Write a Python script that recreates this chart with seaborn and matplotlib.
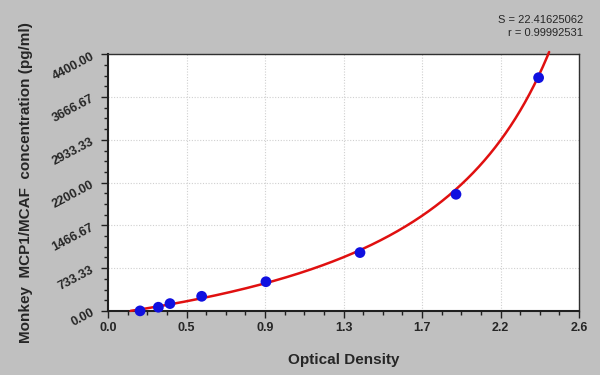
import numpy as np
import pandas as pd
import matplotlib
matplotlib.use("Agg")
import matplotlib.pyplot as plt
import seaborn as sns
from matplotlib.ticker import FixedLocator, AutoMinorLocator

# Data
od = [0.177, 0.278, 0.342, 0.517, 0.872, 1.391, 1.921, 2.377]
conc = [0.0, 62.5, 125.0, 250.0, 500.0, 1000.0, 2000.0, 4000.0]
x_tick_vals = list(np.linspace(0, 2.6, 7))
x_tick_labels = ["0.0", "0.5", "0.9", "1.3", "1.7", "2.2", "2.6"]
y_tick_vals = list(np.linspace(0, 4400, 7))
y_tick_labels = ["0.00", "733.33", "1466.67", "2200.00", "2933.33", "3666.67", "4400.00"]
stats_text = ["S = 22.41625062", "r = 0.99992531"]
curve_top = 4440.0

sns.set_theme(style="white")
plt.rcParams["font.family"] = ["Liberation Sans", "DejaVu Sans"]

fig = plt.figure(figsize=(6, 3.75), dpi=100, facecolor="#c0c0c0")
ax = fig.add_axes([0.18, 0.171, 0.785, 0.684])
ax.set_facecolor("white")

# Fit an inverse four-parameter logistic curve to the data (grid search + least squares)
xo = np.array(od)
yo = np.array(conc)
m = yo > 0
best = None
for a in np.linspace(0.0, 0.125, 51):
    for d in np.linspace(2.40, 4.5, 211):
        if d <= xo.max():
            continue
        z = np.log((xo[m] - a) / (d - xo[m]))
        p1, p0 = np.polyfit(z, np.log(yo[m]), 1)
        pred = np.exp(p0 + p1 * z)
        sse = np.sum(((pred - yo[m]) / (yo[m] + 200)) ** 2)
        if best is None or sse < best[0]:
            best = (sse, a, d, p0, p1)
_, a, d, p0, p1 = best
ys = np.linspace(0, curve_top, 800)
ys[0] = 1e-6
r = np.exp((np.log(ys) - p0) / p1)
xs = (a + d * r) / (1 + r)
curve = pd.DataFrame({"x": xs, "y": ys})
pts = pd.DataFrame({"x": od, "y": conc})

sns.lineplot(data=curve, x="x", y="y", ax=ax, color="#e01010", linewidth=1.8,
             zorder=3, clip_on=False, sort=False, estimator=None)
sns.scatterplot(data=pts, x="x", y="y", ax=ax, color="#1010e0", s=60,
                edgecolor="none", zorder=4, clip_on=False)

ax.set_xlim(0, 2.6)
ax.set_ylim(0, 4400)
ax.xaxis.set_major_locator(FixedLocator(x_tick_vals))
ax.yaxis.set_major_locator(FixedLocator(y_tick_vals))
ax.set_xticklabels(x_tick_labels, fontsize=9, fontweight="bold")
ax.set_yticklabels(y_tick_labels, fontsize=9, fontweight="bold", rotation=28,
                   ha="right", rotation_mode="anchor")
ax.xaxis.set_minor_locator(AutoMinorLocator(4))
ax.yaxis.set_minor_locator(AutoMinorLocator(4))
ax.tick_params(axis="both", which="major", direction="out", length=5, width=1,
               color="#202020", bottom=True, left=True, pad=3)
ax.tick_params(axis="both", which="minor", direction="out", length=3, width=1,
               color="#202020", bottom=True, left=True)
ax.tick_params(axis="y", which="major", pad=6)

ax.grid(True, which="major", color="#d0d0d0", linestyle=(0, (1, 1.5)), linewidth=0.8)
ax.set_axisbelow(True)

for side in ["left", "bottom"]:
    ax.spines[side].set_color("#202020")
    ax.spines[side].set_linewidth(1.5)
for side in ["top", "right"]:
    ax.spines[side].set_color("#303030")
    ax.spines[side].set_linewidth(1.0)

ax.set_xlabel("Optical Density", fontsize=11, fontweight="bold", labelpad=10)
ax.set_ylabel("Monkey  MCP1/MCAF  concentration (pg/ml)", fontsize=11,
              fontweight="bold", labelpad=8)
ax.xaxis.set_label_coords(0.5, -0.165)
ax.yaxis.set_label_coords(-0.16, 0.5)

fig.text(0.972, 0.947, stats_text[0], ha="right", va="center", fontsize=8)
fig.text(0.972, 0.912, stats_text[1], ha="right", va="center", fontsize=8)

fig.savefig("out.png", dpi=100, facecolor=fig.get_facecolor())
